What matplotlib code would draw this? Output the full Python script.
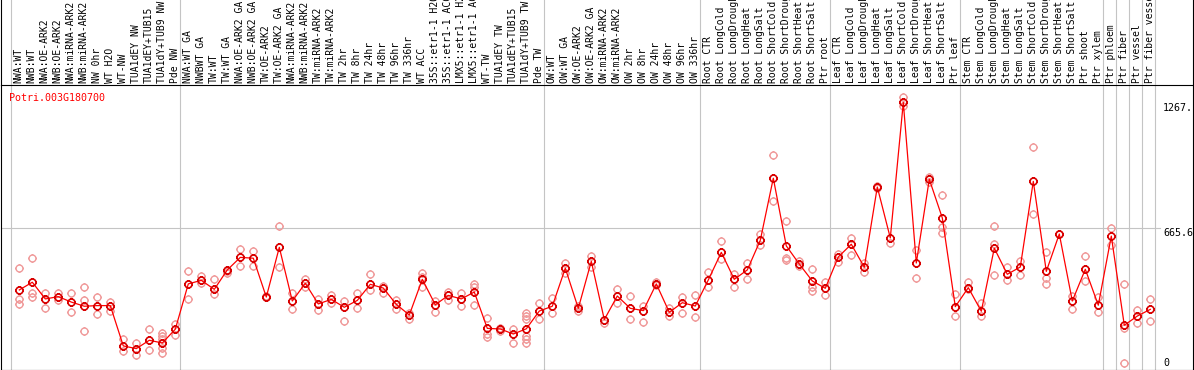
import numpy as np
import matplotlib
matplotlib.use("Agg")
import matplotlib.pyplot as plt
from matplotlib.path import Path
from matplotlib.transforms import blended_transform_factory, offset_copy

# ---------------- data ----------------
gene = "Potri.003G180700"

samples = [
    "NWA:WT", "NWB:WT", "NWA:OE-ARK2", "NWB:OE-ARK2", "NWA:miRNA-ARK2", "NWB:miRNA-ARK2",
    "NW 0hr", "WT H2O", "WT-NW", "TUA1dEY NW", "TUA1dEY+TUB15", "TUA1dY+TUB9 NW", "Pde NW",
    "NWA:WT GA", "NWBWT GA", "TW:WT", "TW:WT GA", "NWA:OE-ARK2 GA", "NWB:OE-ARK2 GA",
    "TW:OE-ARK2", "TW:OE-ARK2 GA", "NWA:miRNA-ARK2", "NWB:miRNA-ARK2", "TW:miRNA-ARK2",
    "TW:miRNA-ARK2", "TW 2hr", "TW 8hr", "TW 24hr", "TW 48hr", "TW 96hr", "TW 336hr",
    "WT ACC", "35S::etr1-1 H2O", "35S::etr1-1 ACC", "LMX5::etr1-1 H2O", "LMX5::etr1-1 ACC",
    "WT-TW", "TUA1dEY TW", "TUA1dEY+TUB15", "TUA1dY+TUB9 TW", "Pde TW",
    "OW:WT", "OW:WT GA", "OW:OE-ARK2", "OW:OE-ARK2 GA", "OW:miRNA-ARK2", "OW:miRNA-ARK2",
    "OW 2hr", "OW 8hr", "OW 24hr", "OW 48hr", "OW 96hr", "OW 336hr",
    "Root CTR", "Root LongCold", "Root LongDrought", "Root LongHeat", "Root LongSalt",
    "Root ShortCold", "Root ShortDrought", "Root ShortHeat", "Root ShortSalt", "Ptr root",
    "Leaf CTR", "Leaf LongCold", "Leaf LongDrought", "Leaf LongHeat", "Leaf LongSalt",
    "Leaf ShortCold", "Leaf ShortDrought", "Leaf ShortHeat", "Leaf ShortSalt", "Ptr leaf",
    "Stem CTR", "Stem LongCold", "Stem LongDrought", "Stem LongHeat", "Stem LongSalt",
    "Stem ShortCold", "Stem ShortDrought", "Stem ShortHeat", "Stem ShortSalt", "Ptr shoot",
    "Ptr xylem",
    "Ptr phloem", "Ptr fiber", "Ptr vessel", "Ptr fiber vessel",
]

means = [
    369, 406, 326, 337, 311, 291, 294, 294, 101, 88, 128, 115, 181,
    398, 415, 372, 465, 525, 521, 335, 573, 316, 401, 302, 324, 286, 319, 396, 378,
    300, 249, 420, 298, 343, 326, 359, 185, 182, 158, 183, 268,
    291, 473, 281, 506, 227, 340, 281, 270, 398, 262, 308, 292,
    417, 549, 420, 465, 607, 904, 580, 493, 412, 377,
    527, 588, 478, 862, 618, 1267, 498, 899, 714, 289,
    380, 267, 569, 444, 479, 889, 458, 637, 316, 468, 296,
    627, 200, 244, 276,
]

replicates = [
    [473, 324, 300], [522, 353, 337], [353, 281], [353, 321], [356, 262],
    [383, 319, 172], [335, 255], [313, 270], [133, 77], [116, 58], [182, 80],
    [164, 149, 133, 114, 90, 69], [207, 153],
    [461, 324], [437, 401], [420, 350], [461, 452], [565, 484], [554, 485],
    [337, 340], [675, 478], [353, 276], [423, 382], [324, 272], [346, 308],
    [318, 220], [356, 284], [445, 367], [388, 354], [322, 278], [260, 228],
    [449, 432, 382], [315, 265], [359, 321], [353, 294], [396, 383, 296],
    [236, 158, 145], [185, 171], [181, 114], [257, 244, 231, 149, 133, 114],
    [305, 231],
    [329, 260], [500, 449], [292, 270], [532, 480], [212], [372, 308],
    [339, 228], [294, 214], [409, 393], [281, 244], [337, 257], [345, 238],
    [454, 382], [602, 517], [444, 385], [498, 420], [636, 584], [1014, 795],
    [698, 523, 511], [508, 484], [468, 385, 365], [409, 343],
    [540, 503], [619, 535], [498, 455], [867, 856], [592], [1292, 1250],
    [560, 425], [911, 887], [822, 672, 640], [351, 243],
    [409, 372], [305, 246], [674, 591, 439], [480, 417], [508, 439],
    [1052, 731], [551, 426, 396], [637], [340, 276], [532, 410], [337, 265],
    [666, 586], [398, 187, 18], [273, 212], [324, 219],
]

group_bounds = [0, 13, 41, 53, 63, 73, 84, 85, 86, 87, 88]
ytick_vals = [1267, 665.6, 0]
ytick_text = ["1267.", "665.6", "0"]

# ---------------- figure ----------------
W, H = 1194, 370
fig = plt.figure(figsize=(W / 100, H / 100), dpi=100)
fig.patch.set_facecolor("white")

FONT = "DejaVu Sans Mono"
FS = 7.2
FS_LAB = 7.0
GRID = "#c4c4c4"

# pixel geometry -> axis limits
x0_px, x1_px = 0.5, 1192.5
top_px, bot_px = 84.5, 369.5
first_pt_px, step_px = 19.3, 13.0
zero_px, px_per_unit = 367.0, 0.2088

xlim = ((x0_px - first_pt_px) / step_px, (x1_px - first_pt_px) / step_px)
ylim = ((zero_px - bot_px) / px_per_unit, (zero_px - top_px) / px_per_unit)

ax = fig.add_axes([x0_px / W, (H - bot_px) / H, (x1_px - x0_px) / W, (bot_px - top_px) / H])
ax.set_xlim(*xlim)
ax.set_ylim(*ylim)
ax.set_xticks([])
ax.set_yticks([])
for s in ax.spines.values():
    s.set_color("black")
    s.set_linewidth(0.8)

axl = fig.add_axes([x0_px / W, (H - top_px) / H, (x1_px - x0_px) / W, top_px / H])
axl.set_xlim(*xlim)
axl.set_ylim(0, 1)
axl.set_xticks([])
axl.set_yticks([])
axl.patch.set_alpha(0)
for k, s in axl.spines.items():
    s.set_visible(k in ("left", "right"))
    s.set_color("black")
    s.set_linewidth(0.8)

# separators
for b in group_bounds:
    xb = b - 0.62
    ax.axvline(xb, color=GRID, lw=0.8, zorder=0)
    axl.axvline(xb, color=GRID, lw=0.8, zorder=0)

# gridline at mid value
ax.axhline(665.6, xmin=0, xmax=(1160 - x0_px) / (x1_px - x0_px), color=GRID, lw=0.8, zorder=0)

# marker: circle with four small ticks
circ = Path.unit_circle()
r_out = 1.3
tick_verts = [(0, 1), (0, r_out), (0, -1), (0, -r_out), (1, 0), (r_out, 0), (-1, 0), (-r_out, 0)]
tick_codes = [Path.MOVETO, Path.LINETO] * 4
marker_path = Path(np.concatenate([circ.vertices, np.array(tick_verts)]),
                   np.concatenate([circ.codes, np.array(tick_codes)]))
MS = 9 * 0.72

x = np.arange(len(means))
rx, ry = [], []
for i, reps in enumerate(replicates):
    rx += [i] * len(reps)
    ry += reps
ax.plot(rx, ry, linestyle="none", marker=marker_path, markersize=MS,
        markerfacecolor="none", markeredgecolor="#f09a9a", markeredgewidth=1.0, zorder=2)
ax.plot(x, means, color="#ff0000", lw=0.9, zorder=3)
ax.plot(x, means, linestyle="none", marker=marker_path, markersize=MS,
        markerfacecolor="none", markeredgecolor="#d80000", markeredgewidth=1.2, zorder=4)

# sample labels (rotated, clipped at the top of the figure)
tr_lab = blended_transform_factory(axl.transData, axl.transAxes)
for i, lab in enumerate(samples):
    axl.text(i - 0.04, (top_px - 83.0) / top_px, lab, rotation=90, ha="center", va="bottom",
             fontsize=FS_LAB, family=FONT, color="black", transform=tr_lab, clip_on=False)

# gene name
fig.text(9.5 / W, 1 - 100.8 / H, gene, color="#ff0000", fontsize=FS, family=FONT,
         ha="left", va="baseline")

# value labels on the right
tr_y = blended_transform_factory(ax.transAxes, ax.transData)
xlab = (1163 - x0_px) / (x1_px - x0_px)
offsets_px = [-8.3, -8.3, 1.4]
for v, t, o in zip(ytick_vals, ytick_text, offsets_px):
    trans = offset_copy(tr_y, fig=fig, x=0, y=o * 0.72, units="points")
    ax.text(xlab, v, t, transform=trans, ha="left", va="baseline",
            fontsize=FS, family=FONT, color="black", clip_on=False)

fig.savefig("out.png", dpi=100)
